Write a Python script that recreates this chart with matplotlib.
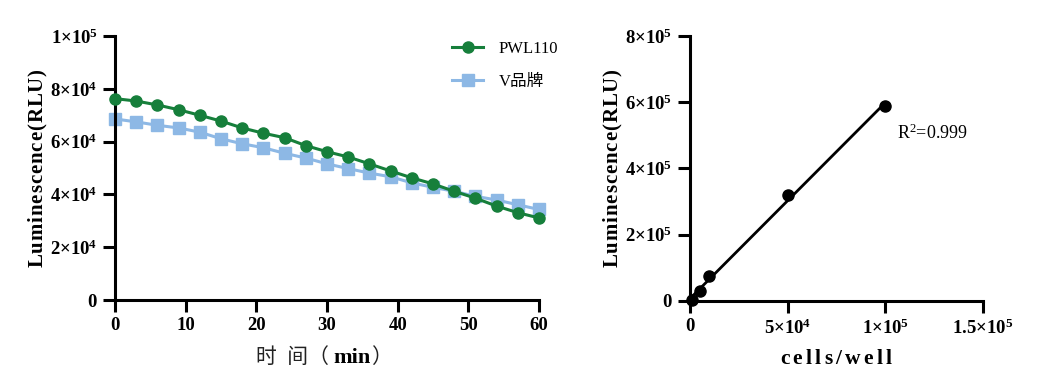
import numpy as np
import matplotlib
matplotlib.use("Agg")
import matplotlib.pyplot as plt
from matplotlib.ticker import FuncFormatter
from matplotlib.font_manager import FontProperties

plt.rcParams['font.family'] = ['Liberation Serif', 'Noto Sans CJK SC']
plt.rcParams['mathtext.fontset'] = 'custom'
plt.rcParams['mathtext.rm'] = 'Liberation Serif'
plt.rcParams['mathtext.bf'] = 'Liberation Serif:bold'
plt.rcParams['mathtext.it'] = 'Liberation Serif:italic'

# 左图：发光随时间变化
time_min = np.arange(0, 61, 3)
pwl110 = [76300, 75400, 73900, 72100, 70000, 67800, 65200, 63200, 61500, 58500, 56200,
          54200, 51600, 48900, 46300, 44000, 41200, 38600, 35600, 33100, 31100]
v_brand = [68600, 67500, 66200, 65200, 63600, 61100, 59200, 57700, 55600, 53800, 51600,
           49800, 48100, 46700, 44400, 42700, 41200, 39300, 37900, 36100, 34300]

# 右图：细胞数标准曲线
cells = [1000, 5000, 10000, 50000, 100000]
rlu = [3000, 29000, 75000, 320000, 589000]
r2_text = r"R$^{2}$=0.999"

green = '#167f3b'
blue = '#8db8e5'


def sci_fmt(v, pos):
    if v == 0:
        return r"$\mathbf{0}$"
    exp = int(np.floor(np.log10(abs(v))))
    mant = v / 10 ** exp
    m = f"{mant:g}"
    return r"$\mathbf{" + m + r"{\times}10^{" + str(exp) + r"}}$"


def spaced_bold(s, gap):
    # 粗体并稍微拉开字距
    parts = [c for c in s]
    return r"$\mathbf{" + (r"\hspace{%g}" % gap).join(parts) + r"}$"


def style_axes(ax):
    for s in ['top', 'right']:
        ax.spines[s].set_visible(False)
    for s in ['left', 'bottom']:
        ax.spines[s].set_linewidth(2.2)
    ax.tick_params(width=2.2, length=8.5, labelsize=13.5, direction='out', pad=4)
    for lab in ax.get_xticklabels() + ax.get_yticklabels():
        lab.set_fontweight('bold')


ylab = spaced_bold('Luminescence(RLU)', 0.06)

fig = plt.figure(figsize=(10.39, 3.91), dpi=100)
ax1 = fig.add_axes([0.1107, 0.2327, 0.408, 0.675])
ax2 = fig.add_axes([0.664, 0.2302, 0.282, 0.678])

ax1.plot(time_min, pwl110, '-o', color=green, lw=2.2, ms=8, label='PWL110', clip_on=False, zorder=3)
ax1.plot(time_min, v_brand, '-s', color=blue, lw=2.2, ms=8, label='V品牌', clip_on=False, zorder=2)
ax1.set_xlim(0, 60)
ax1.set_ylim(0, 100000)
ax1.set_xticks(range(0, 61, 10))
ax1.set_yticks(range(0, 100001, 20000))
ax1.yaxis.set_major_formatter(FuncFormatter(sci_fmt))
style_axes(ax1)
ax1.set_ylabel(ylab, fontsize=15, labelpad=0.5)
leg = ax1.legend(loc='upper right', frameon=False, bbox_to_anchor=(1.08, 1.04),
                 prop=FontProperties(family=['Liberation Serif', 'Noto Sans CJK SC'], size=12),
                 handlelength=1.9, labelspacing=1.05, handletextpad=0.9)

# x 轴标题：中文常规 + min 粗体
t1 = ax1.text(0.515, -0.175, '时\u2002间（ ', transform=ax1.transAxes, ha='right', va='top',
              fontsize=15, family=['Noto Sans CJK SC'], color='#222222')
t2 = ax1.annotate('min', xy=(1, 0), xycoords=t1, ha='left', va='bottom',
                  fontsize=16, fontweight='bold', family=['Liberation Serif'])
t3 = ax1.annotate('）', xy=(1, 0), xycoords=t2, ha='left', va='bottom',
                  fontsize=15, family=['Noto Sans CJK SC'], color='#222222')

# 右图
fit = np.polyfit(cells, rlu, 1)
xfit = np.array([0, max(cells)])
ax2.plot(xfit, np.polyval(fit, xfit), color='black', lw=2)
ax2.plot(cells, rlu, 'o', color='black', ms=8, clip_on=False, zorder=3)
ax2.set_xlim(0, 150000)
ax2.set_ylim(0, 800000)
ax2.set_xticks([0, 50000, 100000, 150000])
ax2.set_yticks(range(0, 800001, 200000))
ax2.xaxis.set_major_formatter(FuncFormatter(sci_fmt))
ax2.yaxis.set_major_formatter(FuncFormatter(sci_fmt))
style_axes(ax2)
ax2.set_ylabel(ylab, fontsize=15, labelpad=0)
ax2.set_xlabel(spaced_bold('cells/well', 0.21), fontsize=15.5, labelpad=9)
ax2.text(106000, 505000, r2_text, fontsize=13, ha='left', va='center')

fig.savefig('out.png', dpi=100)
